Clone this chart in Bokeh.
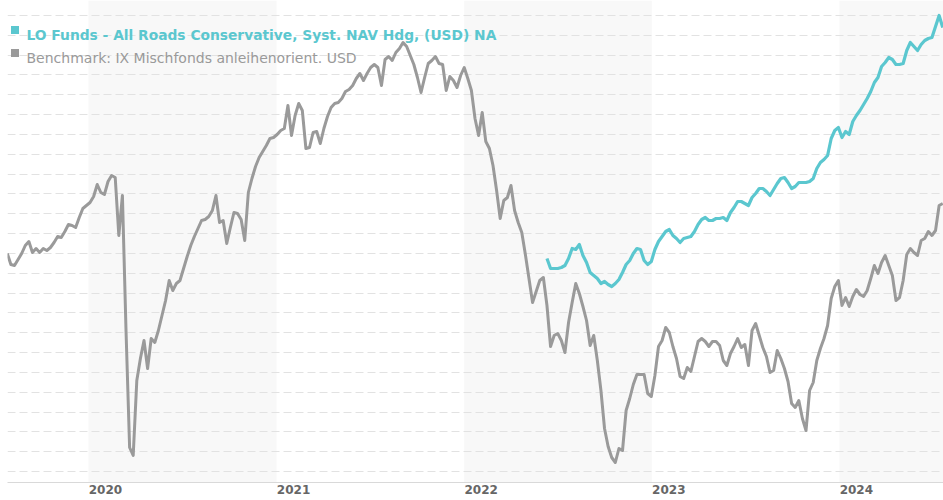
import pandas as pd
from datetime import datetime, timedelta
from bokeh.plotting import figure
from bokeh.models import (FixedTicker, BoxAnnotation, Label, CustomJSTickFormatter,
                          Range1d)
from bokeh.embed import file_html
from bokeh.resources import INLINE

fund_name = "LO Funds - All Roads Conservative, Syst. NAV Hdg, (USD) NA"
bench_name = "Benchmark: IX Mischfonds anleihenorient. USD"

# weekly observations, starting 2019-07-27
start_date = "2019-07-27"
bench_values = [
    101.8, 100.7, 100.6, 101.2, 101.8, 102.6, 103.0, 101.9, 102.3, 101.9,
    102.3, 102.1, 102.4, 102.9, 103.5, 103.4, 104.0, 104.7, 104.6, 104.4,
    105.4, 106.3, 106.6, 106.9, 107.5, 108.7, 107.9, 107.7, 109.0, 109.6,
    109.4, 103.6, 107.6, 94.1, 82.4, 81.6, 89.1, 91.3, 93.1, 90.3,
    93.3, 92.9, 94.1, 95.6, 97.1, 99.1, 98.1, 98.8, 99.1, 100.3,
    101.5, 102.6, 103.5, 104.3, 105.1, 105.2, 105.5, 106.1, 107.6, 104.9,
    105.1, 102.8, 104.4, 105.9, 105.8, 105.2, 103.1, 107.9, 109.3, 110.5,
    111.4, 112.0, 112.6, 113.3, 113.4, 113.7, 114.1, 114.3, 116.6, 113.6,
    115.6, 116.8, 116.1, 112.3, 112.4, 113.9, 114.0, 112.8, 114.3, 115.5,
    116.4, 116.8, 116.9, 117.3, 118.0, 118.2, 118.6, 119.3, 119.8, 119.1,
    119.8, 120.4, 120.7, 120.4, 118.6, 121.2, 121.5, 121.1, 121.9, 122.3,
    122.9, 122.5, 121.6, 120.7, 119.4, 117.9, 119.4, 120.8, 121.1, 121.5,
    120.8, 120.7, 118.1, 119.5, 119.1, 118.4, 119.6, 120.4, 119.3, 118.1,
    115.3, 113.6, 115.9, 113.0, 112.3, 110.6, 108.1, 105.3, 107.1, 107.4,
    108.6, 106.1, 104.9, 103.9, 101.7, 99.3, 96.9, 98.0, 99.1, 99.4,
    96.6, 92.5, 93.6, 93.8, 93.1, 91.9, 94.9, 96.9, 98.8, 97.8,
    96.5, 95.1, 92.6, 93.6, 91.1, 88.1, 84.3, 82.5, 81.4, 80.9,
    82.3, 82.1, 86.1, 87.3, 88.7, 89.7, 89.7, 89.7, 87.8, 87.5,
    89.6, 92.5, 93.1, 94.4, 93.9, 92.5, 91.3, 89.5, 89.3, 90.4,
    90.0, 91.5, 93.0, 93.3, 93.0, 92.5, 93.0, 93.0, 92.6, 91.1,
    90.6, 91.8, 92.5, 93.3, 92.4, 92.7, 90.6, 94.1, 94.8, 93.6,
    92.4, 91.5, 89.9, 90.1, 92.1, 91.3, 90.3, 89.0, 86.8, 86.4,
    87.1, 85.3, 84.1, 88.1, 88.9, 91.1, 92.3, 93.3, 94.6, 97.3,
    98.5, 99.1, 96.6, 97.4, 96.5, 97.5, 98.2, 97.7, 97.5, 98.1,
    99.3, 100.6, 99.8, 100.9, 101.6, 100.6, 99.6, 97.1, 97.4, 99.1,
    101.7, 102.3, 101.9, 101.6, 103.1, 103.3, 104.0, 103.6, 104.1, 106.6,
    106.8,
]

# fund series begins at observation 150 of the same weekly calendar
fund_start_index = 150
fund_values = [
    101.3, 100.3, 100.3, 100.3, 100.4, 100.6, 101.3, 102.3, 102.2, 102.7,
    101.6, 100.9, 99.9, 99.6, 99.3, 98.8, 99.0, 98.7, 98.5, 98.8,
    99.2, 99.9, 100.7, 101.1, 101.8, 102.3, 102.2, 101.1, 100.7, 101.0,
    102.2, 103.0, 103.5, 104.0, 104.2, 103.6, 103.3, 102.9, 103.3, 103.4,
    103.5, 104.0, 104.7, 105.2, 105.4, 105.1, 105.1, 105.3, 105.3, 105.4,
    105.1, 105.9, 106.4, 107.0, 107.0, 106.8, 106.6, 107.4, 107.8, 108.3,
    108.3, 108.0, 107.6, 108.2, 108.8, 109.3, 109.4, 108.9, 108.3, 108.5,
    108.9, 108.9, 108.9, 109.0, 109.3, 110.3, 110.9, 111.2, 111.6, 113.3,
    114.1, 114.4, 113.4, 114.0, 113.7, 115.0, 115.6, 116.1, 116.7, 117.3,
    118.0, 118.9, 119.4, 120.5, 120.9, 121.4, 121.2, 120.7, 120.7, 120.8,
    122.1, 122.9, 122.5, 122.1, 122.7, 123.1, 123.3, 123.4, 124.5, 125.6,
    124.4,
]

years = [2020, 2021, 2022, 2023, 2024]
shaded_years = [2020, 2022, 2024]

TEAL = "#5bc7cf"
GREY = "#9a9a9a"

dates = pd.date_range(start_date, periods=len(bench_values), freq="7D")
fund_dates = dates[fund_start_index:fund_start_index + len(fund_values)]

p = figure(width=943, height=500, x_axis_type="datetime",
           x_range=Range1d(datetime(2019, 7, 27, 10), datetime(2024, 7, 21, 12)),
           y_range=Range1d(78.9, 127.1),
           output_backend="svg", toolbar_location=None,
           min_border_left=7, min_border_right=0, min_border_top=0,
           min_border_bottom=18)
p.outline_line_color = None
p.background_fill_color = "white"
p.border_fill_color = "white"

for yr in shaded_years:
    p.add_layout(BoxAnnotation(left=datetime(yr, 1, 1), right=datetime(yr + 1, 1, 1),
                               fill_color="#f8f8f8", fill_alpha=1.0,
                               line_color=None, level="image"))

p.yaxis.visible = False
p.xgrid.visible = False
p.ygrid.ticker = FixedTicker(ticks=[80 + 1.983 * k for k in range(24)])
p.ygrid.grid_line_color = "#e2e2e2"
p.ygrid.grid_line_dash = "8 4"
p.ygrid.grid_line_width = 1

tick_ms = [int(pd.Timestamp(datetime(y, 1, 1) + timedelta(days=33)).value // 10**6)
           for y in years]
p.xaxis.ticker = FixedTicker(ticks=tick_ms)
p.xaxis.formatter = CustomJSTickFormatter(
    code="return String(new Date(tick).getUTCFullYear());")
p.xaxis.axis_line_color = "#d9d9d9"
p.xaxis.axis_line_width = 1
p.xaxis.major_tick_line_color = None
p.xaxis.minor_tick_line_color = None
p.xaxis.major_tick_out = 0
p.xaxis.major_tick_in = 0
p.xaxis.major_label_standoff = 2
p.xaxis.major_label_text_font = "DejaVu Sans"
p.xaxis.major_label_text_font_style = "bold"
p.xaxis.major_label_text_font_size = "12px"
p.xaxis.major_label_text_color = "#666666"

p.line(dates, bench_values, line_color=GREY, line_width=3, line_join="round")
p.line(fund_dates, fund_values, line_color=TEAL, line_width=3.2, line_join="round")

# legend (top-left)
p.add_layout(BoxAnnotation(left=3.5, right=11.5, bottom=448.5, top=456.5,
                           left_units="screen", right_units="screen",
                           bottom_units="screen", top_units="screen",
                           fill_color=TEAL, fill_alpha=1.0, line_color=None))
p.add_layout(BoxAnnotation(left=3.5, right=11.5, bottom=425.5, top=433.5,
                           left_units="screen", right_units="screen",
                           bottom_units="screen", top_units="screen",
                           fill_color=GREY, fill_alpha=1.0, line_color=None))
p.add_layout(Label(x=19, y=448, x_units="screen", y_units="screen", text=fund_name,
                   text_font="DejaVu Sans", text_font_size="13.8px",
                   text_font_style="bold", text_color=TEAL,
                   text_baseline="alphabetic", text_align="left"))
p.add_layout(Label(x=19, y=424.5, x_units="screen", y_units="screen", text=bench_name,
                   text_font="DejaVu Sans", text_font_size="14px",
                   text_color=GREY, text_baseline="alphabetic", text_align="left"))

open("out.html", "w").write(file_html(p, INLINE))
